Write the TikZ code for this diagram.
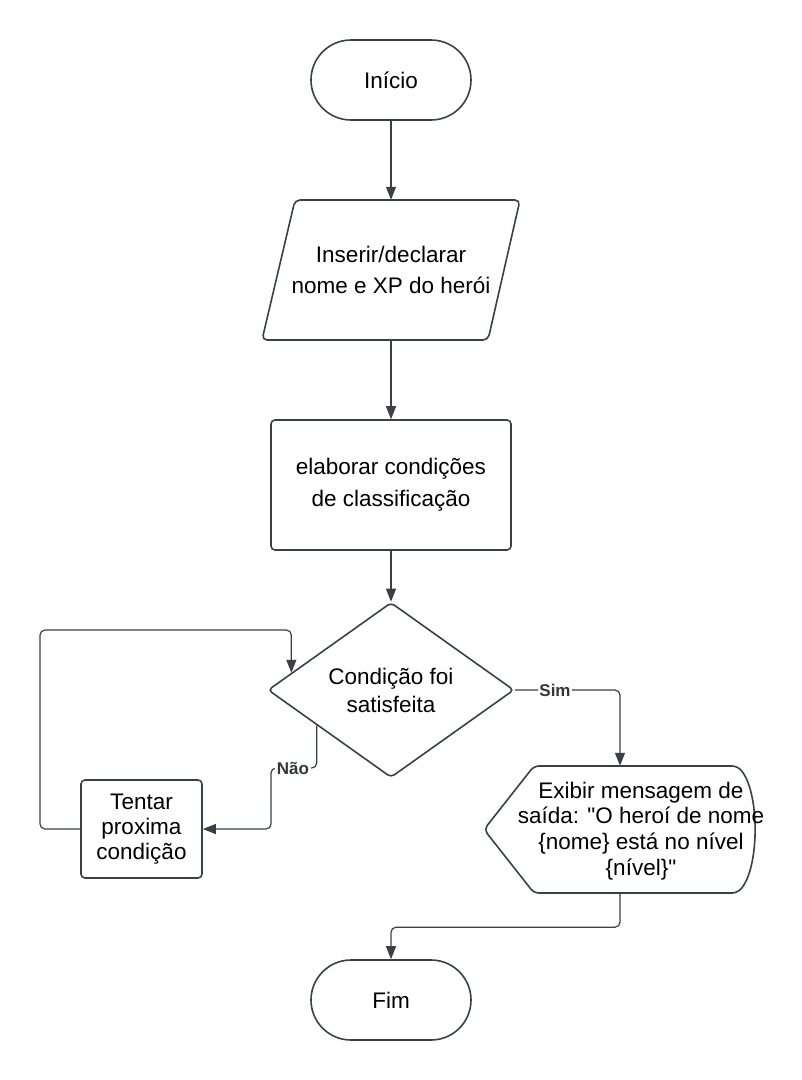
\documentclass[tikz,border=0pt]{standalone}
\usepackage{fontspec}
\setmainfont{Liberation Sans}
\newfontfamily\plainsans{Liberation Sans}
\usetikzlibrary{arrows.meta,shapes.geometric,shapes.misc,calc}
\definecolor{ln}{HTML}{3B4048}
\begin{document}
\begin{tikzpicture}[x=1pt,y=-1pt,
  shp/.style={draw=ln,line width=1.6pt,fill=white},
  conn/.style={draw=ln,line width=1.2pt,rounded corners=5pt,-{Triangle[length=13pt,width=10pt]}},
  txt/.style={font=\fontsize{22.5}{30}\selectfont,align=center,text=black},
  lbl/.style={font=\fontsize{17}{18}\selectfont\bfseries,fill=white,inner sep=1.5pt,text=ln!85!black}]
\useasboundingbox (0,0) rectangle (802,1080);

% shapes
\node[shp,rounded rectangle,minimum width=160pt,minimum height=80pt,inner sep=0pt,txt] (start) at (391,80) {Início};

\draw[shp,rounded corners=5pt] (295,200) -- (520,200) -- (488,340) -- (262,340) -- cycle;
\node[minimum width=258pt,minimum height=140pt,inner sep=0pt,txt,font=\fontsize{22.5}{31}\selectfont] (input) at (391,270) {Inserir/declarar\\nome e XP do herói};

\node[shp,rounded corners=4pt,minimum width=240pt,minimum height=130pt,inner sep=0pt,txt,font=\fontsize{22.5}{32}\selectfont] (proc) at (391,485) {elaborar condições\\de classificação};

\node[shp,diamond,aspect=1.4,minimum width=246pt,minimum height=175pt,inner sep=0pt,rounded corners=4pt,txt,font=\fontsize{22.5}{28}\selectfont] (dec) at (391,690) {Condição foi\\satisfeita};

\node[shp,rounded corners=4pt,minimum width=121pt,minimum height=98pt,inner sep=0pt,txt,font=\fontsize{22.5}{25}\selectfont] (try) at (141.5,829) {Tentar\\proxima\\condição};

\draw[shp,rounded corners=5pt] (484,829.5) -- (534,766) -- (737,766) .. controls (760,790) and (760,869) .. (737,893) -- (534,893) -- cycle;
\node[minimum width=272pt,minimum height=127pt,inner sep=0pt] (disp) at (620,829.5) {};
\node[txt,font=\plainsans\fontsize{22.5}{25.7}\selectfont] (disptxt) at (641,831) {Exibir mensagem de\\saída: "O heroí de nome\\\{nome\} está no nível\\\{nível\}"};

\node[shp,rounded rectangle,minimum width=160pt,minimum height=80pt,inner sep=0pt,txt] (end) at (391,1000) {Fim};

% connector points
\coordinate (naoStart) at ($(dec.west)!0.4!(dec.south)$);
\coordinate (loopEnd) at ($(dec.west)!0.195!(dec.north)$);

% connectors
\draw[conn] (start.south) -- (input.north);
\draw[conn] (input.south) -- (proc.north);
\draw[conn] (proc.south) -- (dec.north);
\draw[conn] (dec.east) -| (disp.north);
\draw[conn] (naoStart) |- (271,768) |- (try.east);
\draw[conn] (try.west) -| (40,630) -| (loopEnd);
\draw[conn] (disp.south) -- ++(0,34) -| (end.north);

% labels
\node[lbl] (simlbl) at (555,690) {Sim};
\node[lbl] (naolbl) at (293,768) {Não};
\end{tikzpicture}
\end{document}
